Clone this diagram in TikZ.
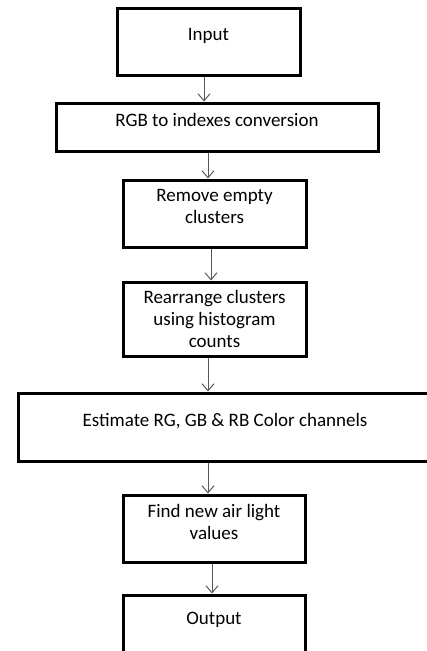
\documentclass[tikz,border=0pt]{standalone}
\usepackage{fontspec}
\setmainfont{Carlito}
\usetikzlibrary{arrows.meta}

\tikzset{
	stage/.style={draw, line width=3pt, inner sep=0pt, align=center,
		font=\fontsize{19}{22}\selectfont, text depth=14pt},
	flow/.style={draw=black!65, line width=1pt,
		arrows={-Straight Barb[length=7pt,width=12pt]}}
}

\begin{document}
\begin{tikzpicture}[x=1pt, y=-1pt]
		\useasboundingbox (0,0) rectangle (427,651);
		\node[stage, minimum width=183pt, minimum height=67pt] (in) at (208.5,41.5) {Input};
		\node[stage, minimum width=322pt, minimum height=48pt] (rgb) at (217,127) {RGB to indexes conversion};
		\node[stage, minimum width=183pt, minimum height=67pt] (rem) at (214.5,213.5) {Remove empty\\clusters};
		\node[stage, minimum width=183pt, minimum height=74pt, text depth=0pt] (rea) at (214.5,319) {Rearrange clusters\\using histogram\\counts};
		\node[stage, minimum width=414pt, minimum height=68pt] (est) at (225,427) {Estimate RG, GB \& RB Color channels};
		\node[stage, minimum width=182pt, minimum height=67pt] (air) at (214,528.5) {Find new air light\\values};
		\node[stage, minimum width=182pt, minimum height=61pt] (out) at (214,625.5) {Output};
		\foreach \a/\b/\s in {in/rgb/-4.5, rgb/rem/-9, rem/rea/-3.5, rea/est/-6.5, est/air/-17, air/out/-2} {
			\draw[flow] ([xshift=\s pt]\a.south) -- ([xshift=\s pt]\a.south |- \b.north);
		}
	\end{tikzpicture}
\end{document}
